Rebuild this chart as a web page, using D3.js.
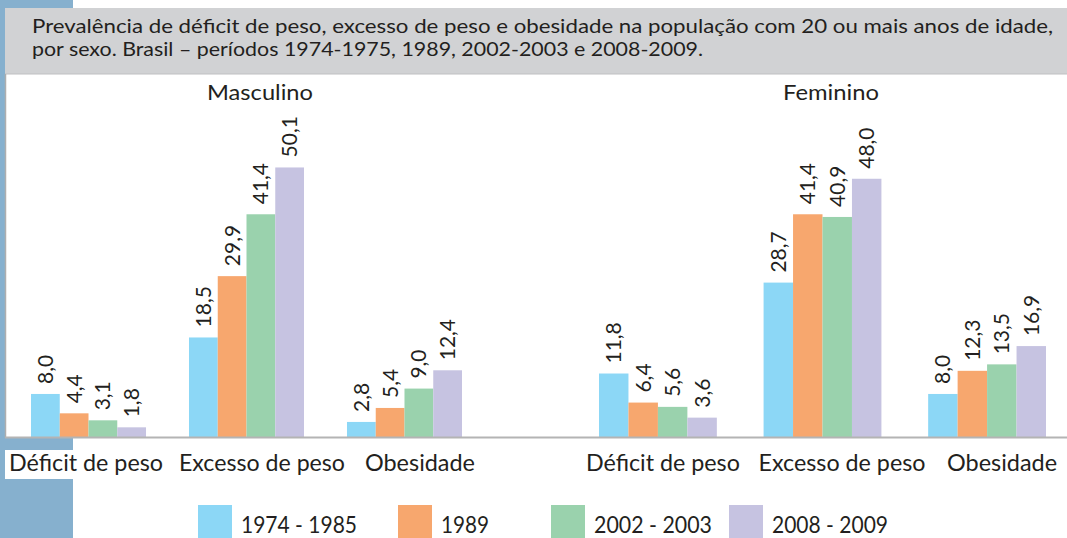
<!DOCTYPE html>
<html><head><meta charset="utf-8">
<script src="https://cdn.jsdelivr.net/npm/d3@7"></script>
<style>
html,body{margin:0;padding:0;background:#fff;}
svg{display:block;font-family:Lato,"Open Sans",sans-serif;}
</style></head>
<body>
<svg id="chart" width="1067" height="538"></svg>
<script>
// ---- data ----
const titleLines = [
  "Prevalência de déficit de peso, excesso de peso e obesidade na população com 20 ou mais anos de idade,",
  "por sexo. Brasil – períodos 1974-1975, 1989, 2002-2003 e 2008-2009."
];
const sexes = ["Masculino", "Feminino"];
const categories = ["Déficit de peso", "Excesso de peso", "Obesidade"];
const periods = ["1974 - 1985", "1989", "2002 - 2003", "2008 - 2009"];
const masc1974 = [8.0, 18.5, 2.8];
const masc1989 = [4.4, 29.9, 5.4];
const masc2002 = [3.1, 41.4, 9.0];
const masc2008 = [1.8, 50.1, 12.4];
const fem1974 = [11.8, 28.7, 8.0];
const fem1989 = [6.4, 41.4, 12.3];
const fem2002 = [5.6, 40.9, 13.5];
const fem2008 = [3.6, 48.0, 16.9];
const colors = ["#8cd7f6", "#f7a76e", "#9ad2ad", "#c6c3e1"];

// ---- layout ----
const W = 1067, H = 538;
const baseY = 437;
const svg = d3.select("#chart");
const txt = "#231f20";
const fmt = d3.formatLocale({decimal: ",", thousands: ".", grouping: [3], currency: ["", ""]}).format(".1f");

function fit(sel, w) {
  sel.each(function () {
    const n = this.getComputedTextLength();
    if (Math.abs(n - w) > 1) {
      this.setAttribute("textLength", w);
      this.setAttribute("lengthAdjust", "spacingAndGlyphs");
    }
  });
}

// background decorations
svg.append("rect").attr("x", 0).attr("y", 0).attr("width", 73).attr("height", H).attr("fill", "#86b0ce");
svg.append("rect").attr("x", 5).attr("y", 74).attr("width", W - 5).attr("height", baseY - 74).attr("fill", "#fff");
svg.append("rect").attr("x", 73).attr("y", baseY).attr("width", W - 73).attr("height", H - baseY).attr("fill", "#fff");
svg.append("rect").attr("x", 5).attr("y", 8).attr("width", W - 5).attr("height", 66).attr("fill", "#d1d2d4");
svg.append("line").attr("x1", 5).attr("x2", W).attr("y1", 74).attr("y2", 74).attr("stroke", "#bfc0c2").attr("stroke-width", 1);
svg.append("line").attr("x1", 5.5).attr("x2", 5.5).attr("y1", 74).attr("y2", baseY + 1).attr("stroke", "#aeaeae").attr("stroke-width", 1.5);
// white box behind first category label
svg.append("rect").attr("x", 5).attr("y", 450).attr("width", 68).attr("height", 29).attr("fill", "#fff");

// title
const titleWidths = [1021, 671];
svg.selectAll("text.title").data(titleLines).join("text")
  .attr("class", "title")
  .attr("x", 32).attr("y", (d, i) => 33 + i * 23)
  .attr("font-size", 20).attr("fill", txt).text(d => d)
  .call(s => s.each(function (d, i) { fit(d3.select(this), titleWidths[i]); }));

// scales
const y = d3.scaleLinear().domain([0, 50]).range([baseY, baseY - 269]);
const panels = [
  {sex: sexes[0], series: [masc1974, masc1989, masc2002, masc2008], range: [31, 462], pad: 0.272,
   labelShift: [-2.5, 15.5, 15.5], titleShift: 13.5, labelW: [154, 166, 110], titleW: 106},
  {sex: sexes[1], series: [fem1974, fem1989, fem2002, fem2008], range: [599, 1046], pad: 0.284,
   labelShift: [5, 19.5, 15], titleShift: 8.5, labelW: [154, 167, 110], titleW: 96}
];

panels.forEach(p => {
  const x0 = d3.scaleBand().domain(categories).range(p.range).paddingInner(p.pad).paddingOuter(0);
  const x1 = d3.scaleBand().domain(periods).range([0, x0.bandwidth()]).padding(0);
  const g = svg.append("g");
  const groups = g.selectAll("g.grp").data(categories).join("g")
    .attr("transform", c => `translate(${x0(c)},0)`);
  groups.each(function (c, ci) {
    const rows = periods.map((per, pi) => ({per, pi, v: p.series[pi][ci]}));
    const gg = d3.select(this);
    gg.selectAll("rect").data(rows).join("rect")
      .attr("x", d => x1(d.per)).attr("width", x1.bandwidth())
      .attr("y", d => y(d.v)).attr("height", d => baseY - y(d.v))
      .attr("fill", d => colors[d.pi]);
    gg.selectAll("text").data(rows).join("text")
      .attr("transform", d => `translate(${x1(d.per) + x1.bandwidth() / 2},${y(d.v) - 10}) rotate(-90)`)
      .attr("dy", "0.36em").attr("font-size", 21).attr("fill", txt)
      .text(d => fmt(d.v));
  });
  // category labels
  g.selectAll("text.cat").data(categories).join("text")
    .attr("class", "cat")
    .attr("x", (c, i) => x0(c) + x0.bandwidth() / 2 + p.labelShift[i]).attr("y", 471)
    .attr("text-anchor", "middle").attr("font-size", 23).attr("fill", txt).text(c => c)
    .each(function (c, i) { fit(d3.select(this), p.labelW[i]); });
  // panel title
  g.append("text")
    .attr("x", (p.range[0] + p.range[1]) / 2 + p.titleShift).attr("y", 100)
    .attr("text-anchor", "middle").attr("font-size", 22).attr("fill", txt).text(p.sex)
    .call(s => fit(s, p.titleW));
});

// axis baseline
svg.append("line").attr("x1", 5).attr("x2", W).attr("y1", baseY + 0.5).attr("y2", baseY + 0.5)
  .attr("stroke", "#b4b4b4").attr("stroke-width", 2);

// legend
const legendX = [198, 398, 551, 729];
const legendW = [116, 48, 118, 116];
const lg = svg.append("g");
const items = lg.selectAll("g").data(periods).join("g")
  .attr("transform", (d, i) => `translate(${legendX[i]},505)`);
items.append("rect").attr("width", 34).attr("height", 33).attr("fill", (d, i) => colors[i]);
items.append("text").attr("x", 43).attr("y", 28).attr("font-size", 23).attr("fill", txt).text(d => d)
  .each(function (d, i) { fit(d3.select(this), legendW[i]); });
</script>
</body></html>
